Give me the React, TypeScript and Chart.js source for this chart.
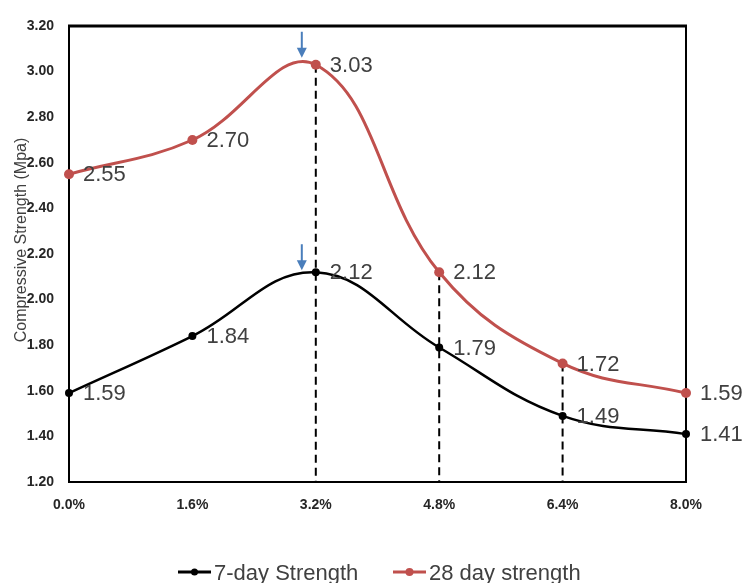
import React, { useEffect, useRef } from "react";
import { Chart, registerables } from "chart.js";

Chart.register(...registerables);

const categories = ["0.0%", "1.6%", "3.2%", "4.8%", "6.4%", "8.0%"];
const strength7 = [1.59, 1.84, 2.12, 1.79, 1.49, 1.41];
const strength28 = [2.55, 2.7, 3.03, 2.12, 1.72, 1.59];
const seriesNames = ["7-day Strength", "28 day strength"];
const yTitle = "Compressive Strength (Mpa)";
const dropLineIndices = [2, 3, 4];
const arrowIndex = 2;

const RED = "#C0504D";
const LABEL_COLOR = "#404040";
const FONT = "'Liberation Sans', Arial, sans-serif";

const overlayPlugin = {
  id: "overlay",
  beforeDatasetsDraw(chart: any) {
    const ctx = chart.ctx;
    const area = chart.chartArea;
    const meta28 = chart.getDatasetMeta(1);
    ctx.save();
    ctx.strokeStyle = "#000";
    ctx.lineWidth = 2;
    ctx.setLineDash([8, 5]);
    dropLineIndices.forEach((i) => {
      const p = meta28.data[i];
      ctx.beginPath();
      ctx.moveTo(p.x, p.y);
      ctx.lineTo(p.x, area.bottom);
      ctx.stroke();
    });
    ctx.setLineDash([]);
    // frame
    ctx.lineWidth = 2;
    ctx.strokeRect(area.left, area.top, area.right - area.left, area.bottom - area.top);
    ctx.lineWidth = 3;
    ctx.beginPath();
    ctx.moveTo(area.left - 1, area.top);
    ctx.lineTo(area.right + 1, area.top);
    ctx.stroke();
    ctx.restore();
  },
  afterDatasetsDraw(chart: any) {
    const ctx = chart.ctx;
    ctx.save();
    // data labels
    ctx.font = `22px ${FONT}`;
    ctx.fillStyle = LABEL_COLOR;
    ctx.textBaseline = "middle";
    ctx.textAlign = "left";
    [strength7, strength28].forEach((arr, di) => {
      const meta = chart.getDatasetMeta(di);
      arr.forEach((v, i) => {
        const p = meta.data[i];
        ctx.fillText(v.toFixed(2), p.x + 14, p.y + 1);
      });
    });
    // arrows
    const drawArrow = (x: number, tipY: number) => {
      ctx.strokeStyle = "#4A7EBB";
      ctx.fillStyle = "#4A7EBB";
      ctx.lineWidth = 2;
      ctx.beginPath();
      ctx.moveTo(x, tipY - 26);
      ctx.lineTo(x, tipY - 8);
      ctx.stroke();
      ctx.beginPath();
      ctx.moveTo(x - 5, tipY - 10);
      ctx.lineTo(x + 5, tipY - 10);
      ctx.lineTo(x, tipY);
      ctx.closePath();
      ctx.fill();
    };
    const r = chart.getDatasetMeta(1).data[arrowIndex];
    const b = chart.getDatasetMeta(0).data[arrowIndex];
    drawArrow(r.x - 14, r.y - 7);
    drawArrow(b.x - 14, b.y - 2);
    // y title
    const area = chart.chartArea;
    ctx.save();
    ctx.translate(22, (area.top + area.bottom) / 2 - 14);
    ctx.rotate(-Math.PI / 2);
    ctx.font = `16px ${FONT}`;
    ctx.fillStyle = LABEL_COLOR;
    ctx.textAlign = "center";
    ctx.textBaseline = "middle";
    ctx.fillText(yTitle, 0, 0);
    ctx.restore();
    // legend
    const legendY = 572;
    const items = [
      { color: "#000", x: 178, r: 3.5 },
      { color: RED, x: 393, r: 4 },
    ];
    items.forEach((it, i) => {
      ctx.strokeStyle = it.color;
      ctx.fillStyle = it.color;
      ctx.lineWidth = 3;
      ctx.beginPath();
      ctx.moveTo(it.x, legendY);
      ctx.lineTo(it.x + 33, legendY);
      ctx.stroke();
      ctx.beginPath();
      ctx.arc(it.x + 16.5, legendY, it.r, 0, Math.PI * 2);
      ctx.fill();
      ctx.font = `22px ${FONT}`;
      ctx.fillStyle = LABEL_COLOR;
      ctx.textBaseline = "alphabetic";
      ctx.textAlign = "left";
      ctx.fillText(seriesNames[i], it.x + 36, legendY + 8);
    });
    ctx.restore();
  },
};

export default function App() {
  const ref = useRef<HTMLCanvasElement | null>(null);
  useEffect(() => {
    document.body.style.margin = "0";
    const canvas = ref.current!;
    const chart = new Chart(canvas, {
      type: "line",
      data: {
        labels: categories,
        datasets: [
          {
            label: seriesNames[0],
            data: strength7,
            borderColor: "#000",
            backgroundColor: "#000",
            borderWidth: 2.5,
            pointRadius: 4,
            pointBackgroundColor: "#000",
            pointBorderWidth: 0,
            tension: 0.4,
          },
          {
            label: seriesNames[1],
            data: strength28,
            borderColor: RED,
            backgroundColor: RED,
            borderWidth: 3,
            pointRadius: 5,
            pointBackgroundColor: RED,
            pointBorderWidth: 0,
            tension: 0.4,
          },
        ],
      },
      options: {
        responsive: false,
        animation: false,
        devicePixelRatio: 1,
        layout: { padding: { left: 0, right: 61, top: 26, bottom: 61 } },
        plugins: {
          legend: { display: false },
          tooltip: { enabled: false },
        },
        scales: {
          x: {
            type: "category",
            offset: false,
            grid: { display: false, drawTicks: false },
            border: { display: false },
            ticks: {
              font: { family: FONT, size: 14, weight: "bold" },
              color: "#262626",
              padding: 15,
              maxRotation: 0,
            },
            afterFit: (s: any) => {
              s.height = 40;
            },
          },
          y: {
            min: 1.2,
            max: 3.2,
            grid: { display: false, drawTicks: false },
            border: { display: false },
            ticks: {
              stepSize: 0.2,
              font: { family: FONT, size: 14, weight: "bold" },
              color: "#262626",
              padding: 15,
              callback: (v: any) => Number(v).toFixed(2),
            },
            afterFit: (s: any) => {
              s.width = 69;
            },
          },
        },
      },
      plugins: [overlayPlugin],
    } as any);
    return () => chart.destroy();
  }, []);
  return <canvas ref={ref} width={747} height={583} style={{ display: "block" }} />;
}
